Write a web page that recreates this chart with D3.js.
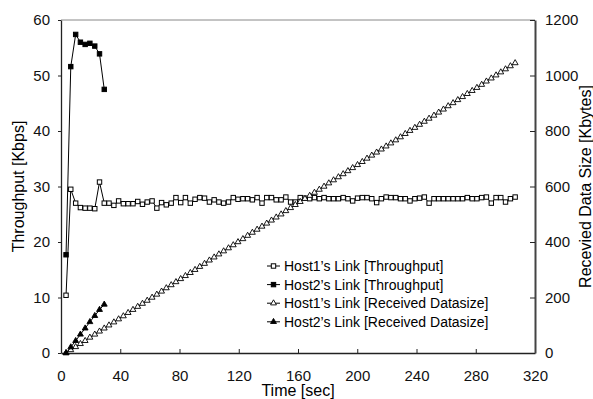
<!DOCTYPE html>
<html>
<head>
<meta charset="utf-8">
<script src="https://cdn.jsdelivr.net/npm/d3@7"></script>
<style>
  body { margin: 0; background: #fff; }
  svg { font-family: "Liberation Sans", Arial, sans-serif; }
  .tick text { font-size: 15px; fill: #111; }
</style>
</head>
<body>
<svg width="593" height="399"></svg>
<script>
// sample times [sec]
const times = [3.4, 6.6, 9.9, 13.1, 16.3, 19.5, 22.8, 26.0, 29.2, 32.4,
  35.7, 38.9, 42.1, 45.3, 48.6, 51.8, 55.0, 58.2, 61.5, 64.7,
  67.9, 71.1, 74.4, 77.6, 80.8, 84.0, 87.3, 90.5, 93.7, 96.9,
  100.2, 103.4, 106.6, 109.8, 113.1, 116.3, 119.5, 122.8, 126.0, 129.2,
  132.4, 135.7, 138.9, 142.1, 145.3, 148.6, 151.8, 155.0, 158.2, 161.5,
  164.7, 167.9, 171.1, 174.4, 177.6, 180.8, 184.0, 187.3, 190.5, 193.7,
  196.9, 200.2, 203.4, 206.6, 209.8, 213.1, 216.3, 219.5, 222.7, 226.0,
  229.2, 232.4, 235.6, 238.9, 242.1, 245.3, 248.5, 251.8, 255.0, 258.2,
  261.4, 264.7, 267.9, 271.1, 274.3, 277.6, 280.8, 284.0, 287.2, 290.5,
  293.7, 296.9, 300.1, 303.4, 306.6];

// Host1 throughput [Kbps]
const host1Thr = [10.4, 29.5, 27.0, 26.2, 26.1, 26.1, 26.0, 30.8, 27.0, 27.0,
  26.6, 27.4, 26.9, 26.9, 26.9, 27.3, 26.8, 27.2, 27.4, 26.1,
  27.1, 26.7, 27.0, 28.0, 27.1, 28.0, 27.0, 27.7, 28.0, 27.9,
  27.2, 27.6, 27.2, 27.0, 27.2, 28.0, 27.7, 27.8, 27.8, 27.6,
  28.0, 27.0, 28.0, 28.0, 27.6, 27.6, 28.1, 27.2, 27.2, 28.0,
  27.9, 27.8, 28.0, 27.8, 28.0, 27.8, 27.8, 27.8, 28.0, 27.8,
  27.4, 27.9, 28.0, 28.0, 27.8, 27.1, 27.8, 28.1, 28.0, 28.0,
  27.8, 27.8, 27.4, 27.8, 27.9, 28.1, 27.0, 27.8, 27.8, 27.8,
  27.8, 27.8, 27.8, 27.8, 28.0, 27.8, 27.8, 28.0, 28.1, 27.0,
  28.0, 28.0, 27.2, 27.8, 28.1];

// Host2 throughput [Kbps]
const host2Thr = [17.7, 51.6, 57.4, 56.0, 55.6, 55.8, 55.3, 53.9, 47.5];

// Host1 received data size [Kbytes]
const host1Recv = [0, 11, 22, 33, 44, 56, 67, 78, 89, 100,
  111, 122, 133, 145, 156, 167, 178, 189, 200, 211,
  222, 234, 245, 256, 267, 278, 289, 300, 311, 322,
  334, 345, 356, 367, 378, 389, 400, 411, 423, 434,
  445, 456, 467, 478, 489, 500, 512, 523, 534, 545,
  556, 567, 578, 589, 600, 612, 623, 634, 645, 656,
  667, 678, 689, 701, 712, 723, 734, 745, 756, 767,
  778, 790, 801, 812, 823, 834, 845, 856, 867, 878,
  890, 901, 912, 923, 934, 945, 956, 967, 979, 990,
  1001, 1012, 1023, 1034, 1045];

// Host2 received data size [Kbytes]
const host2Recv = [0, 21, 44, 67, 89, 112, 134, 156, 175];

const xTicks = [0, 40, 80, 120, 160, 200, 240, 280, 320];
const yLeftTicks = [0, 10, 20, 30, 40, 50, 60];
const yRightTicks = [0, 200, 400, 600, 800, 1000, 1200];

const legendLabels = [
  'Host1\u2019s Link [Throughput]',
  'Host2\u2019s Link [Throughput]',
  'Host1\u2019s Link [Received Datasize]',
  'Host2\u2019s Link [Received Datasize]'
];

const svg = d3.select('svg');
const plotL = 61, plotR = 535, plotT = 20, plotB = 353;

const x = d3.scaleLinear().domain([0, 320]).range([plotL, plotR]);
const yL = d3.scaleLinear().domain([0, 60]).range([plotB, plotT]);
const yR = d3.scaleLinear().domain([0, 1200]).range([plotB, plotT]);

// top border
svg.append('line')
  .attr('x1', plotL).attr('x2', plotR)
  .attr('y1', plotT).attr('y2', plotT)
  .attr('stroke', '#888').attr('stroke-width', 1);

// axes
const gx = svg.append('g')
  .attr('transform', `translate(0,${plotB})`)
  .call(d3.axisBottom(x).tickValues(xTicks).tickSizeInner(-4).tickSizeOuter(0).tickPadding(17));
const gl = svg.append('g')
  .attr('transform', `translate(${plotL},0)`)
  .call(d3.axisLeft(yL).tickValues(yLeftTicks).tickSizeInner(3).tickSizeOuter(0).tickPadding(8));
const gr = svg.append('g')
  .attr('transform', `translate(${plotR},0)`)
  .call(d3.axisRight(yR).tickValues(yRightTicks).tickFormat(d3.format('d'))
    .tickSizeInner(-5).tickSizeOuter(0).tickPadding(10));

[gx, gl, gr].forEach(g => {
  g.selectAll('.domain').attr('stroke', '#222').attr('stroke-width', 1.3);
  g.selectAll('.tick line').attr('stroke', '#222');
  g.attr('font-size', null).attr('font-family', null);
});
gr.selectAll('.domain').attr('stroke', '#444').attr('stroke-width', 2);

// axis titles
svg.append('text')
  .attr('x', x(160)).attr('y', 396)
  .attr('text-anchor', 'middle')
  .attr('font-size', 16)
  .text('Time [sec]');
svg.append('text')
  .attr('transform', `translate(24,${(plotT + plotB) / 2}) rotate(-90)`)
  .attr('text-anchor', 'middle')
  .attr('font-size', 16)
  .text('Throughput [Kbps]');
svg.append('text')
  .attr('transform', `translate(591,${(plotT + plotB) / 2}) rotate(-90)`)
  .attr('text-anchor', 'middle')
  .attr('font-size', 16)
  .text('Recevied Data Size [Kbytes]');

// series
const series = [
  { vals: host1Thr, y: yL, marker: 'square', fill: '#fff' },
  { vals: host2Thr, y: yL, marker: 'square', fill: '#000' },
  { vals: host1Recv, y: yR, marker: 'triangle', fill: '#fff' },
  { vals: host2Recv, y: yR, marker: 'triangle', fill: '#000' }
];

const tri = d3.symbol().type(d3.symbolTriangle).size(15);

function drawMarker(sel, s) {
  if (s.marker === 'square') {
    sel.append('rect')
      .attr('x', -2.2).attr('y', -2.2)
      .attr('width', 4.4).attr('height', 4.4)
      .attr('fill', s.fill).attr('stroke', '#000').attr('stroke-width', 1);
  } else {
    sel.append('path')
      .attr('d', tri)
      .attr('fill', s.fill).attr('stroke', '#000').attr('stroke-width', 0.9);
  }
}

series.forEach(s => {
  const pts = s.vals.map((v, i) => [times[i], v]);
  const line = d3.line().x(d => x(d[0])).y(d => s.y(d[1]));
  svg.append('path')
    .datum(pts)
    .attr('d', line)
    .attr('fill', 'none')
    .attr('stroke', '#000')
    .attr('stroke-width', 1);
  svg.append('g').selectAll('g')
    .data(pts)
    .join('g')
    .attr('transform', d => `translate(${x(d[0])},${s.y(d[1])})`)
    .each(function () { drawMarker(d3.select(this), s); });
});

// legend
const legend = svg.append('g').attr('transform', 'translate(267,266)');
legendLabels.forEach((lab, i) => {
  const row = legend.append('g').attr('transform', `translate(0,${i * 18.6})`);
  row.append('line')
    .attr('x1', 0).attr('x2', 13)
    .attr('stroke', '#000').attr('stroke-width', 1);
  drawMarker(row.append('g').attr('transform', 'translate(6.5,0)'), series[i]);
  row.append('text')
    .attr('x', 17).attr('y', 5)
    .attr('font-size', 14)
    .text(lab);
});
</script>
</body>
</html>
